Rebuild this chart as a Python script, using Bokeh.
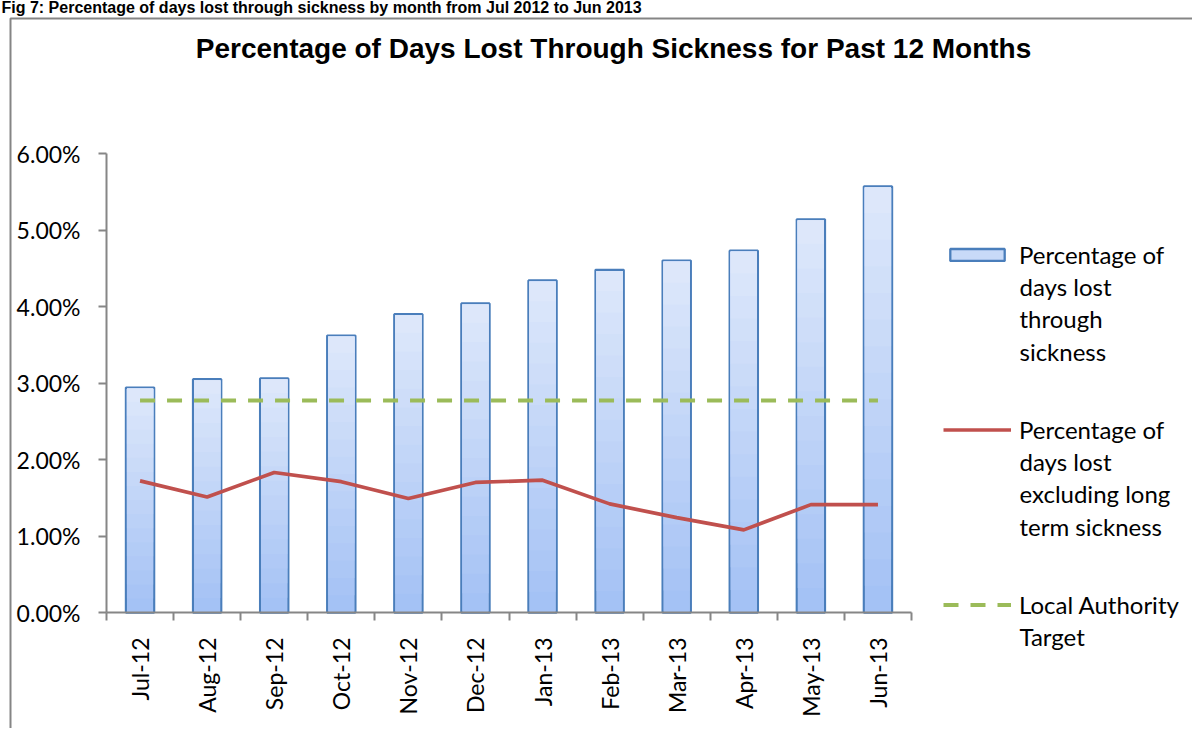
import numpy as np
from bokeh.plotting import figure
from bokeh.models import (ColumnDataSource, FixedTicker, PrintfTickFormatter, Legend, LegendItem,
                          Label, PolyAnnotation, Range1d, CustomJSTickFormatter)
from bokeh.embed import file_html
from bokeh.resources import INLINE

# ---------------- data ----------------
months = ["Jul-12", "Aug-12", "Sep-12", "Oct-12", "Nov-12", "Dec-12",
          "Jan-13", "Feb-13", "Mar-13", "Apr-13", "May-13", "Jun-13"]
pct_days_lost = [2.94, 3.05, 3.06, 3.62, 3.90, 4.04, 4.34, 4.48, 4.60, 4.73, 5.14, 5.57]
pct_excl_long_term = [1.72, 1.51, 1.83, 1.71, 1.49, 1.70, 1.73, 1.42, 1.24, 1.08, 1.41, 1.41]
la_target = [2.77, 2.77, 2.77, 2.77, 2.77, 2.77, 2.77, 2.77, 2.77, 2.77, 2.77, 2.77]
y_ticks = [0, 1, 2, 3, 4, 5, 6]

caption = "Fig 7: Percentage of days lost through sickness by month from Jul 2012 to Jun 2013"
title = "Percentage of Days Lost Through Sickness for Past 12 Months"
legend_lines_1 = ["Percentage of", "days lost", "through", "sickness"]
legend_lines_2 = ["Percentage of", "days lost", "excluding long", "term sickness"]
legend_lines_3 = ["Local Authority", "Target"]

# ---------------- layout (pixels) ----------------
FONT = "Lato"
W, H = 1192, 728
AX_X0, AX_X1 = 106.0, 911.0        # plot area left/right in px
AX_Y0, AX_YTOP = 612.0, 153.0      # y=0 and y=6 in px
n = len(months)
ppx = (AX_X1 - AX_X0) / n
ppy = (AX_Y0 - AX_YTOP) / 6.0
x_range = Range1d(-AX_X0 / ppx, (W - AX_X0) / ppx)
y_range = Range1d(-(H - AX_Y0) / ppy, AX_Y0 / ppy)

p = figure(width=W, height=H, x_range=x_range, y_range=y_range,
           output_backend="svg", toolbar_location=None,
           min_border=0, min_border_left=0, min_border_right=0,
           min_border_top=0, min_border_bottom=0)
p.xgrid.visible = False
p.ygrid.visible = False
p.outline_line_color = None
p.background_fill_color = "white"
p.border_fill_color = "white"

x_centers = np.arange(n) + 0.5
vals = np.array(pct_days_lost)
BAR_W = 0.42
INSET = 2.0 / ppx

# bar body with outline (also used for the legend patch)
bar_src = ColumnDataSource(dict(x=x_centers, top=pct_days_lost))
outline = p.vbar(x="x", top="top", bottom=0, width=BAR_W, source=bar_src,
                 fill_color="#C8DAF8", line_color="#4A7EBB", line_width=2.3)

# vertical gradient inside each bar: overlapping bands, lighter towards the top
n_bands = 16
top_col = np.array([0xDF, 0xE9, 0xFB])
bot_col = np.array([0xA3, 0xC1, 0xF5])
bx, bb, bt, bc = [], [], [], []
for k in range(n_bands):
    frac = (k + 0.5) / n_bands
    c = (bot_col + (top_col - bot_col) * frac).astype(int)
    col = "#%02x%02x%02x" % tuple(c)
    for i in range(n):
        bx.append(x_centers[i])
        bb.append(vals[i] * k / n_bands)
        bt.append(vals[i] - 1.2 / ppy)
        bc.append(col)
band_src = ColumnDataSource(dict(x=bx, bottom=bb, top=bt, color=bc))
bands = p.vbar(x="x", bottom="bottom", top="top", width=BAR_W - INSET, source=band_src,
               fill_color="color", line_color=None)

target = p.line(x=x_centers, y=la_target, line_color="#9BBB59", line_width=4,
                line_dash="15 12")
excl = p.line(x=x_centers, y=pct_excl_long_term, line_color="#C0504D", line_width=3.7)

# ---------------- axes (drawn at data 0) ----------------
ax = p.xaxis[0]
ax.fixed_location = 0
ax.bounds = (0, n)
ax.ticker = FixedTicker(ticks=list(x_centers), minor_ticks=list(range(n + 1)))
ax.formatter = CustomJSTickFormatter(args=dict(labels=months),
                                     code="return labels[Math.floor(tick)]")
ax.major_tick_line_color = None
ax.major_tick_out = 0
ax.major_tick_in = 0
ax.minor_tick_line_color = "#868686"
ax.minor_tick_line_width = 2
ax.minor_tick_out = 8
ax.minor_tick_in = 0
ax.axis_line_color = "#868686"
ax.axis_line_width = 2
ax.major_label_orientation = np.pi / 2
ax.major_label_standoff = 17
ax.major_label_text_font = FONT
ax.major_label_text_font_size = "23px"
ax.major_label_text_color = "black"

ay = p.yaxis[0]
ay.fixed_location = 0
ay.bounds = (0, 6)
ay.ticker = FixedTicker(ticks=y_ticks)
ay.formatter = PrintfTickFormatter(format="%.2f%%")
ay.major_tick_line_color = "#868686"
ay.major_tick_line_width = 2
ay.major_tick_out = 8
ay.major_tick_in = 0
ay.minor_tick_line_color = None
ay.axis_line_color = "#868686"
ay.axis_line_width = 2
ay.major_label_standoff = 18
ay.major_label_text_font = FONT
ay.major_label_text_font_size = "23px"
ay.major_label_text_color = "black"


def baseline_y(b, fs):
    # screen y (measured up from the bottom) that puts a text baseline at pixel row b
    return H - (b - 0.37 * fs)


# ---------------- chart box, caption, title ----------------
box_top = 18
box = PolyAnnotation(xs=[10, W + 100, W + 100, 10], ys=[H - box_top, H - box_top, -100, -100],
                     xs_units="screen", ys_units="screen",
                     fill_alpha=0, line_color="#858585", line_alpha=1.0, line_width=2)
p.add_layout(box)

p.add_layout(Label(x=1, y=baseline_y(13, 16), x_units="screen", y_units="screen", text=caption,
                   text_font="Liberation Sans", text_font_style="bold",
                   text_font_size="16px", text_color="black", text_baseline="alphabetic"))
p.add_layout(Label(x=613, y=baseline_y(58, 28), x_units="screen", y_units="screen", text=title,
                   text_font="Liberation Sans", text_font_style="bold",
                   text_font_size="28px", text_color="black", text_align="center",
                   text_baseline="alphabetic"))

# ---------------- legend ----------------
LEG_FS = 24
items = [LegendItem(label=legend_lines_1[0], renderers=[outline]),
         LegendItem(label=legend_lines_2[0], renderers=[excl]),
         LegendItem(label=legend_lines_3[0], renderers=[target])]
legend = Legend(items=items, location=(943, H - 619), orientation="vertical",
                glyph_width=68, glyph_height=15, label_standoff=8, spacing=146,
                padding=0, margin=0, border_line_color=None, background_fill_alpha=0,
                label_text_font=FONT, label_text_font_size="%dpx" % LEG_FS,
                label_text_color="black")
p.add_layout(legend)

# continuation lines of the legend labels
LINE_H = 32.5
first_baselines = [262, 437, 612]
for lines, b0 in zip([legend_lines_1, legend_lines_2, legend_lines_3], first_baselines):
    for j, txt in enumerate(lines[1:], start=1):
        p.add_layout(Label(x=1019, y=baseline_y(b0 + j * LINE_H, LEG_FS),
                           x_units="screen", y_units="screen",
                           text=txt, text_font=FONT, text_font_size="%dpx" % LEG_FS,
                           text_color="black", text_baseline="alphabetic"))

open("out.html", "w").write(file_html(p, INLINE))
